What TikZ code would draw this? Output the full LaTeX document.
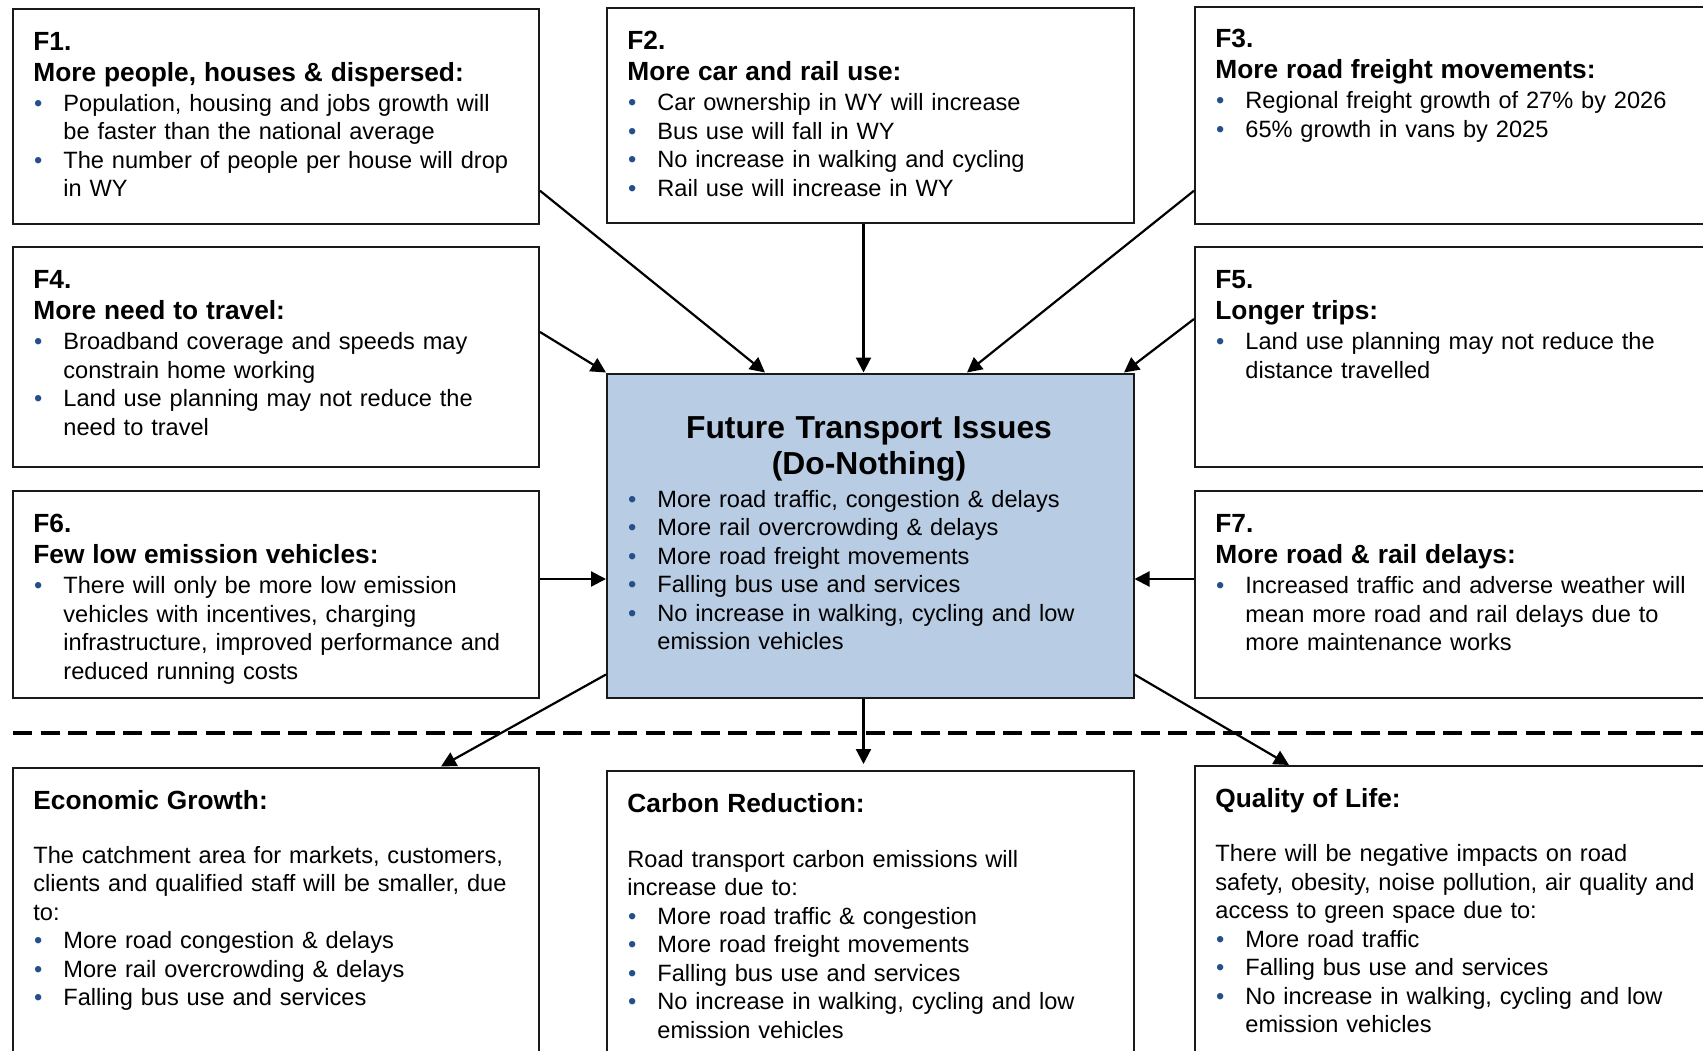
\documentclass[tikz,border=0pt]{standalone}
\usepackage{fontspec}
\setmainfont{Liberation Sans}
\usetikzlibrary{arrows.meta,calc,fit}

\definecolor{bulletblue}{HTML}{254E8C}
\definecolor{issuefill}{HTML}{B8CCE4}
\definecolor{boxline}{HTML}{1A1A1A}

\newcommand\bodyfont{\fontsize{11.8}{14.25}\selectfont}
\newcommand\headfont{\fontsize{13.15}{15.6}\selectfont\bfseries}
\newcommand\titlefont{\fontsize{15.9}{17.8}\selectfont\bfseries}
% line break that stays inside the paragraph (keeps the hanging indent)
\newcommand\nl{\hfil\break}
% bullet mark followed by a hanging indent
\newcommand\bmark{\hangindent=15pt\hangafter=1\noindent
  \makebox[15pt][l]{\hspace{0.4pt}\textcolor{bulletblue}{\textbullet}}\ignorespaces}
% bullet paragraph
\newcommand\bitem{\par\bmark}

\tikzset{
  x=0.5pt, y=-0.5pt,
  panel/.style={draw=boxline, line width=1pt, inner sep=0pt},
  issues/.style={panel, fill=issuefill},
  txt/.style={anchor=base west, inner sep=0pt, text width=250pt, font=\bodyfont},
  link/.style={line width=1.1pt, -{Triangle[length=7.5pt,width=7.5pt]}},
  divider/.style={line width=2pt, dash pattern=on 9.5pt off 4.25pt},
}

\begin{document}
\begin{tikzpicture}
\path[use as bounding box] (0,0) rectangle (1703,1050);
\clip (0,0) rectangle (1703,1050);

% ---------- factor boxes ----------
\node[panel, fit={(13,8.5) (539,223.5)}] (f1) {};
\node[panel, fit={(607,8) (1133.5,223)}] (f2) {};
\node[panel, fit={(1195,6.5) (1730,223.5)}] (f3) {};
\node[panel, fit={(13,247) (539,467)}] (f4) {};
\node[panel, fit={(1195,247) (1730,467)}] (f5) {};
\node[panel, fit={(13,491) (539,697.5)}] (f6) {};
\node[panel, fit={(1195,491) (1730,697.5)}] (f7) {};
\node[issues, fit={(607,373.5) (1133.5,697.5)}] (ctr) {};

% ---------- outcome boxes ----------
\node[panel, fit={(13,767.5) (539,1080)}] (econ) {};
\node[panel, fit={(607,771) (1133.5,1080)}] (carbon) {};
\node[panel, fit={(1195,766) (1730,1080)}] (qol) {};

% ---------- texts ----------
\node[txt] (f1t) at ($(f1.north west)+(21,42.5)$) {%
  {\headfont F1.\\More people, houses \& dispersed:\par}\vspace{0.8pt}
  \bitem Population, housing and jobs growth will\nl be faster than the national average
  \bitem The number of people per house will drop\nl in WY\par};

\node[txt] (f2t) at ($(f2.north west)+(21,42.5)$) {%
  {\headfont F2.\\More car and rail use:\par}\vspace{0.8pt}
  \bitem Car ownership in WY will increase
  \bitem Bus use will fall in WY
  \bitem No increase in walking and cycling
  \bitem Rail use will increase in WY\par};

\node[txt] (f3t) at ($(f3.north west)+(21,42)$) {%
  {\headfont F3.\\More road freight movements:\par}\vspace{0.8pt}
  \bitem Regional freight growth of 27\% by 2026
  \bitem 65\% growth in vans by 2025\par};

\node[txt] (f4t) at ($(f4.north west)+(21,42.5)$) {%
  {\headfont F4.\\More need to travel:\par}\vspace{0.8pt}
  \bitem Broadband coverage and speeds may\nl constrain home working
  \bitem Land use planning may not reduce the\nl need to travel\par};

\node[txt] (f5t) at ($(f5.north west)+(21,42.5)$) {%
  {\headfont F5.\\Longer trips:\par}\vspace{0.8pt}
  \bitem Land use planning may not reduce the\nl distance travelled\par};

\node[txt] (f6t) at ($(f6.north west)+(21,42.5)$) {%
  {\headfont F6.\\Few low emission vehicles:\par}\vspace{0.8pt}
  \bitem There will only be more low emission\nl vehicles with incentives, charging\nl infrastructure, improved performance and\nl reduced running costs\par};

\node[txt] (f7t) at ($(f7.north west)+(21,42.5)$) {%
  {\headfont F7.\\More road \& rail delays:\par}\vspace{0.8pt}
  \bitem Increased traffic and adverse weather will\nl mean more road and rail delays due to\nl more maintenance works\par};

\node[anchor=base, inner sep=0pt, text width=263pt, align=center, font=\titlefont]
  (ctitle) at ($(ctr.north west)+(263,66)$) {Future Transport Issues\\(Do-Nothing)};

\node[txt] (clist) at ($(ctr.north west)+(21,134.7)$) {%
  \bmark More road traffic, congestion \& delays
  \bitem More rail overcrowding \& delays
  \bitem More road freight movements
  \bitem Falling bus use and services
  \bitem No increase in walking, cycling and low\nl emission vehicles\par};

\node[txt] (econt) at ($(econ.north west)+(21,42.5)$) {%
  {\headfont Economic Growth:\par}
  \vspace{12.9pt}
  \noindent The catchment area for markets, customers,\nl clients and qualified staff will be smaller, due\nl to:
  \bitem More road congestion \& delays
  \bitem More rail overcrowding \& delays
  \bitem Falling bus use and services\par};

\node[txt] (carbont) at ($(carbon.north west)+(21,42.8)$) {%
  {\headfont Carbon Reduction:\par}
  \vspace{12.9pt}
  \noindent Road transport carbon emissions will\nl increase due to:
  \bitem More road traffic \& congestion
  \bitem More road freight movements
  \bitem Falling bus use and services
  \bitem No increase in walking, cycling and low\nl emission vehicles\par};

\node[txt] (qolt) at ($(qol.north west)+(21,42.5)$) {%
  {\headfont Quality of Life:\par}
  \vspace{12.9pt}
  \noindent There will be negative impacts on road\nl safety, obesity, noise pollution, air quality and\nl access to green space due to:
  \bitem More road traffic
  \bitem Falling bus use and services
  \bitem No increase in walking, cycling and low\nl emission vehicles\par};

% ---------- divider between causes and impacts ----------
\coordinate (divl) at (13,733);
\coordinate (divr) at (1703,733);
\draw[divider] (divl) -- (divr);

% ---------- connectors ----------
\coordinate (a1) at ($(f1.north east)+(0,183.2)$);
\coordinate (a3) at ($(f3.north west)+(0,185.2)$);
\coordinate (a4) at ($(f4.north east)+(0,86)$);
\coordinate (a5) at ($(f5.north west)+(0,73)$);
\coordinate (a6) at ($(f6.north east)+(0,89)$);
\coordinate (a7) at ($(f7.north west)+(0,89)$);

\draw[link] (a1) -- ($(ctr.north west)+(159,0)$);
\draw[link] ($(f2.south west)+(257.5,0)$) -- ($(ctr.north west)+(257.5,0)$);
\draw[link] (a3) -- ($(ctr.north west)+(361,0)$);
\draw[link] (a4) -- (ctr.north west);
\draw[link] (a5) -- ($(ctr.north east)+(-10.5,0)$);
\draw[link] (a6) -- (a6 -| ctr.west);
\draw[link] (a7) -- (a7 -| ctr.east);

\draw[link] ($(ctr.south west)+(0,-24)$) -- ($(econ.north west)+(429,0)$);
\draw[link, shorten >=3pt] ($(ctr.south west)+(257.5,0)$) -- ($(carbon.north west)+(257.5,0)$);
\draw[link] ($(ctr.south east)+(0,-24)$) -- ($(qol.north west)+(95,0)$);
\end{tikzpicture}
\end{document}
